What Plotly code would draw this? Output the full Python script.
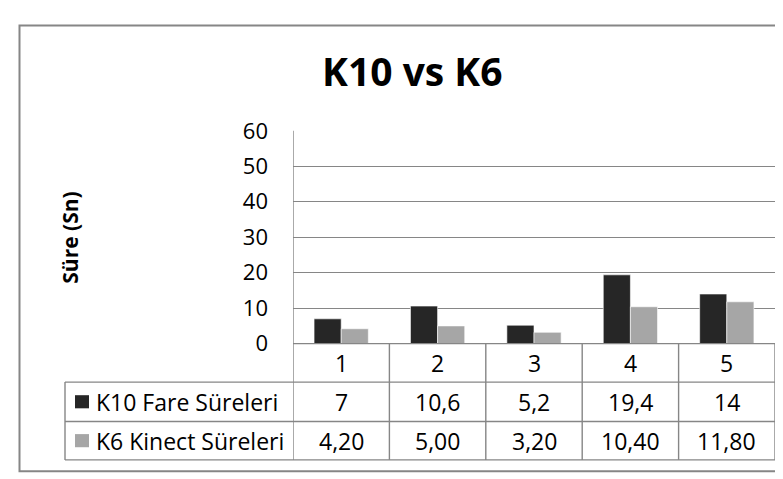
import plotly.graph_objects as go

# ---- data ----
categories = [1, 2, 3, 4, 5]
k10_values = [7, 10.6, 5.2, 19.4, 14]
k6_values = [4.2, 5.0, 3.2, 10.4, 11.8]
series_names = ["K10 Fare Süreleri", "K6 Kinect Süreleri"]
y_ticks = [0, 10, 20, 30, 40, 50, 60]
title_text = "K10 vs K6"
y_title = "Süre (Sn)"

W, H = 783, 479
C_DARK = "#262626"
C_LIGHT = "#a6a6a6"
C_LINE = "#868686"
FONT = "Open Sans"


def xp(px):
    return px / W


def yp(py):
    return 1 - py / H


def fmt_general(v):
    return ("%g" % v).replace(".", ",")


def fmt_2(v):
    return ("%.2f" % v).replace(".", ",")


fig = go.Figure()
fig.add_trace(go.Bar(x=categories, y=k10_values, name=series_names[0],
                     marker=dict(color=C_DARK, line=dict(color="white", width=0.6))))
fig.add_trace(go.Bar(x=categories, y=k6_values, name=series_names[1],
                     marker=dict(color=C_LIGHT, line=dict(color="white", width=0.6))))

# plot area pixel geometry
PL, PR, PT, PB = 285, 767, 114, 341
ROW_Y = [341, 382, 424, 465]   # table row boundaries
LEG_X = 57

shapes = []
# outer chart border
shapes.append(dict(type="rect", xref="paper", yref="paper", x0=xp(11.5), x1=xp(800),
                   y0=yp(1.5), y1=yp(477), line=dict(color=C_LINE, width=2)))
# horizontal table lines
shapes.append(dict(type="line", xref="paper", yref="paper", x0=xp(PL), x1=xp(PR),
                   y0=yp(ROW_Y[0]), y1=yp(ROW_Y[0]), line=dict(color=C_LINE, width=1.4)))
for ry in ROW_Y[1:]:
    shapes.append(dict(type="line", xref="paper", yref="paper", x0=xp(LEG_X), x1=xp(PR),
                       y0=yp(ry), y1=yp(ry), line=dict(color=C_LINE, width=1.4)))
# vertical table lines at category boundaries (data coords)
bounds = [c + 0.5 for c in categories]
for b in bounds:
    shapes.append(dict(type="line", xref="x", yref="paper", x0=b, x1=b,
                       y0=yp(ROW_Y[0]), y1=yp(ROW_Y[3]), line=dict(color=C_LINE, width=1.4)))
shapes.append(dict(type="line", xref="x", yref="paper", x0=categories[0] - 0.5, x1=categories[0] - 0.5,
                   y0=yp(PT), y1=yp(ROW_Y[3]), line=dict(color=C_LINE, width=1.4)))
shapes.append(dict(type="line", xref="paper", yref="paper", x0=xp(LEG_X), x1=xp(LEG_X),
                   y0=yp(ROW_Y[1]), y1=yp(ROW_Y[3]), line=dict(color=C_LINE, width=1.4)))
# legend keys
for i, col in enumerate([C_DARK, C_LIGHT]):
    cy = (ROW_Y[i + 1] + ROW_Y[i + 2]) / 2
    shapes.append(dict(type="rect", xref="paper", yref="paper", x0=xp(67), x1=xp(81),
                       y0=yp(cy - 7), y1=yp(cy + 7), fillcolor=col, line=dict(width=0)))

annotations = []
tfont = dict(family=FONT, size=23, color="#000000")
row_centers = [(ROW_Y[i] + ROW_Y[i + 1]) / 2 for i in range(3)]
for c, v1, v2 in zip(categories, k10_values, k6_values):
    annotations.append(dict(x=c, y=yp(row_centers[0]), xref="x", yref="paper", text=str(c),
                            showarrow=False, font=tfont, xanchor="center", yanchor="middle"))
    annotations.append(dict(x=c, y=yp(row_centers[1]), xref="x", yref="paper", text=fmt_general(v1),
                            showarrow=False, font=tfont, xanchor="center", yanchor="middle"))
    annotations.append(dict(x=c, y=yp(row_centers[2]), xref="x", yref="paper", text=fmt_2(v2),
                            showarrow=False, font=tfont, xanchor="center", yanchor="middle"))
for i, name in enumerate(series_names):
    annotations.append(dict(x=xp(86), y=yp(row_centers[i + 1]), xref="paper", yref="paper", text=name,
                            showarrow=False, font=tfont, xanchor="left", yanchor="middle"))
# title
annotations.append(dict(x=xp(404), y=yp(50), xref="paper", yref="paper", text="<b>%s</b>" % title_text,
                        showarrow=False, font=dict(family=FONT, size=39, color="#000000"),
                        xanchor="center", yanchor="middle"))
# y axis title
annotations.append(dict(x=xp(62), y=yp(228), xref="paper", yref="paper", text="<b>%s</b>" % y_title,
                        showarrow=False, textangle=-90, font=dict(family=FONT, size=21, color="#000000"),
                        xanchor="center", yanchor="middle"))

fig.update_layout(
    width=W, height=H,
    margin=dict(l=0, r=0, t=0, b=0),
    paper_bgcolor="white", plot_bgcolor="white",
    barmode="group", bargap=0.437, bargroupgap=0,
    showlegend=False,
    shapes=shapes, annotations=annotations,
    xaxis=dict(domain=[xp(PL), xp(PR)], range=[categories[0] - 0.5, categories[-1] + 0.5],
               showticklabels=False, showgrid=False, zeroline=False, showline=False, ticks=""),
    yaxis=dict(domain=[yp(PB), yp(PT)], range=[0, 60], tickvals=y_ticks,
               showgrid=True, gridcolor=C_LINE, gridwidth=1, zeroline=False,
               showline=False, ticks="", ticklabelstandoff=24,
               tickfont=dict(family=FONT, size=22, color="#000000")),
)

fig.write_html("out.html")
